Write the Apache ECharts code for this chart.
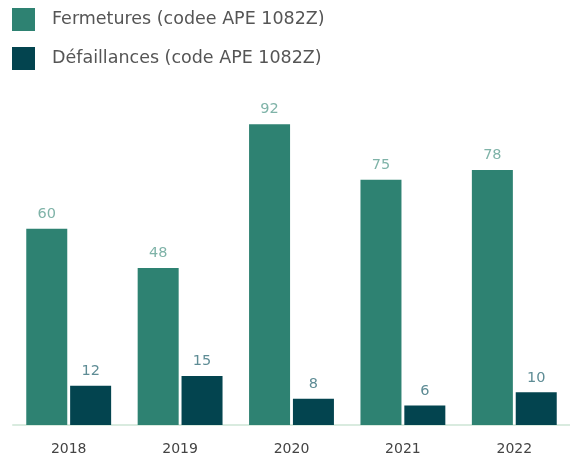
<!DOCTYPE html>
<html><head><meta charset="utf-8">
<script src="https://cdn.jsdelivr.net/npm/echarts@6/dist/echarts.min.js"></script>
<style>html,body{margin:0;padding:0;background:#fff}#c{width:570px;height:459px}</style>
</head><body><div id="c"></div>
<script>
const categories = ['2018','2019','2020','2021','2022'];
const fermetures = [60, 48, 92, 75, 78];
const defaillances = [12, 15, 8, 6, 10];
const seriesNames = ['Fermetures (codee APE 1082Z)', 'Défaillances (code APE 1082Z)'];

const chart = echarts.init(document.getElementById('c'));
const font = '"DejaVu Sans", sans-serif';
chart.setOption({
  animation: false,
  legend: {
    orient: 'vertical', left: 12, top: 8, padding: 0,
    itemWidth: 23, itemHeight: 23, itemGap: 16,
    icon: 'rect',
    textStyle: { fontFamily: font, fontSize: 17.5, color: '#555', padding: [0,0,0,12] },
    data: seriesNames
  },
  grid: { left: 13, right: -3, top: 98, bottom: 34 },
  xAxis: {
    type: 'category', data: categories,
    axisLine: { lineStyle: { color: '#d9ebdf', width: 2 } },
    axisTick: { show: false },
    axisLabel: { fontFamily: font, fontSize: 14, color: '#444', margin: 17 }
  },
  yAxis: { type: 'value', min: 0, max: 100, show: false, splitLine: { show: false } },
  series: [
    { name: seriesNames[0], type: 'bar', data: fermetures, barWidth: 41, barGap: '7%',
      itemStyle: { color: '#2e8272' },
      label: { show: true, position: 'top', distance: 7, fontFamily: font, fontSize: 14.5, color: '#7fb3a8' } },
    { name: seriesNames[1], type: 'bar', data: defaillances, barWidth: 41,
      itemStyle: { color: '#03444f' },
      label: { show: true, position: 'top', distance: 7, fontFamily: font, fontSize: 14.5, color: '#5e8c95' } }
  ]
});
</script></body></html>
